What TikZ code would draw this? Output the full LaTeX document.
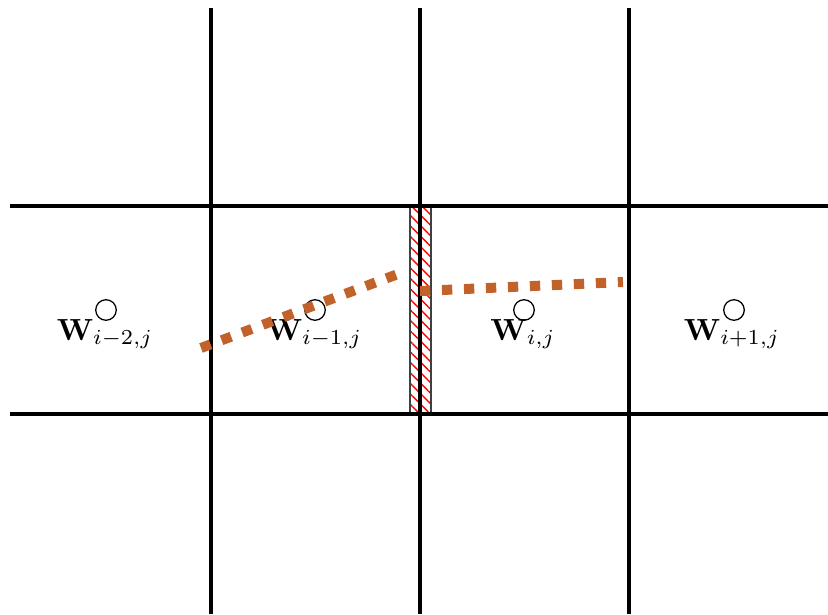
\documentclass[tikz,border=0pt]{standalone}
\usetikzlibrary{patterns.meta}
\definecolor{dashbrown}{RGB}{192,98,42}
\begin{document}
\begin{tikzpicture}[x=0.35pt,y=-0.35pt,
  gridline/.style={line width=1.15pt,black},
  cellpt/.style={circle,draw,line width=0.45pt,minimum size=7.2pt,inner sep=0pt},
  cellname/.style={inner sep=0pt,scale=1.07},
  recon/.style={dashbrown,line width=3.5pt,dash pattern=on 3.6pt off 4.1pt}]
\useasboundingbox (0,0) rectangle (828,614);
% hatched interface strip
\fill[pattern={Lines[angle=-45,distance=2.6pt,line width=0.5pt]},pattern color=red] (410,206) rectangle (431,414);
\draw[black!75,line width=0.5pt] (410,206) rectangle (431,414);
% grid
\foreach \x in {211,420,629} \draw[gridline] (\x,8) -- (\x,614);
\foreach \y in {206,414} \draw[gridline] (10,\y) -- (828,\y);
% cell centres
\node[cellpt] (c1) at (106,310) {};
\node[cellpt] (c2) at (315,310) {};
\node[cellpt] (c3) at (524,310) {};
\node[cellpt] (c4) at (734,310) {};
\node[cellname] (l1) at (105,334) {$\mathbf{W}_{i-2,j}$};
\node[cellname] (l2) at (314,334) {$\mathbf{W}_{i-1,j}$};
\node[cellname] (l3) at (523,334) {$\mathbf{W}_{i,j}$};
\node[cellname] (l4) at (732,334) {$\mathbf{W}_{i+1,j}$};
% reconstructions
\coordinate (a1) at (201,348);
\coordinate (a2) at (406,271);
\coordinate (b1) at (420,291);
\coordinate (b2) at (623,282);
\draw[recon] (a1) -- (a2);
\draw[recon] (b1) -- (b2);
\end{tikzpicture}
\end{document}
